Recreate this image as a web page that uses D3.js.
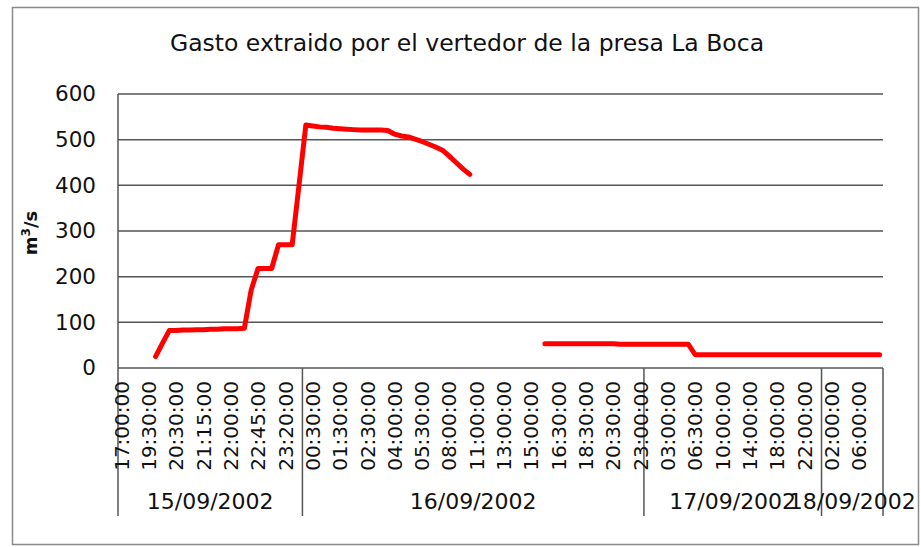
<!DOCTYPE html>
<html>
<head>
<meta charset="utf-8">
<script src="https://cdn.jsdelivr.net/npm/d3@7"></script>
<style>
  body { margin: 0; background: #fff; }
  text { font-family: "DejaVu Sans", sans-serif; fill: #111; }
</style>
</head>
<body>
<div id="chart"></div>
<script>
// caudal (m3/s) por categoria; null = sin dato
const values = [
    null, null, null, null, null,
    25, 54, 82, 82, 83, 83, 84, 84, 85, 85, 86, 86, 86, 87,
    171, 218, 218, 218, 270, 270, 270, 400,
    532, 530, 528, 527, 525, 524, 523, 522, 521, 521, 521, 521, 520,
    512, 508, 506, 501, 496, 490, 484, 477, 464, 450, 436, 424,
    null, null, null, null, null, null, null, null, null, null,
    53, 53, 53, 53, 53, 53, 53, 53, 53, 53, 53,
    52, 52, 52, 52, 52, 52, 52, 52, 52, 52, 52,
    29, 29, 29, 29, 29, 29, 29, 29, 29, 29, 29, 29, 29, 29,
    29, 29, 29, 29, 29, 29, 29, 29, 29, 29, 29, 29, 29, 29
];

// etiquetas horarias (una cada 4 categorias)
const tickLabels = [
    '17:00:00', '19:30:00', '20:30:00', '21:15:00', '22:00:00', '22:45:00', '23:20:00',
    '00:30:00', '01:30:00', '02:30:00', '04:00:00', '05:30:00', '08:00:00', '11:00:00',
    '13:00:00', '15:00:00', '16:30:00', '18:30:00', '20:30:00', '23:00:00',
    '03:00:00', '06:30:00', '10:00:00', '14:00:00', '18:00:00', '22:00:00',
    '02:00:00', '06:00:00'
];
const tickStep = 4;

const dateLabels = ['15/09/2002', '16/09/2002', '17/09/2002', '18/09/2002'];
const dateCounts = [27, 50, 26, 9];

const yTicks = [0, 100, 200, 300, 400, 500, 600];

const width = 921, height = 547;
const plot = {left: 118, right: 883, top: 94, bottom: 368};
const axisBottom = 516;

const svg = d3.select('#chart').append('svg')
    .attr('width', width)
    .attr('height', height);

// marco exterior
svg.append('rect')
    .attr('x', 12.5).attr('y', 7.5)
    .attr('width', 906).attr('height', 537)
    .attr('fill', 'none')
    .attr('stroke', '#8a8a8a')
    .attr('stroke-width', 1.5);

const x = d3.scaleBand()
    .domain(d3.range(values.length))
    .range([plot.left, plot.right]);

const y = d3.scaleLinear()
    .domain([0, 600])
    .range([plot.bottom, plot.top]);

// lineas de cuadricula
svg.append('g')
    .selectAll('line')
    .data(yTicks)
    .enter()
    .append('line')
    .attr('x1', plot.left)
    .attr('x2', plot.right)
    .attr('y1', d => y(d))
    .attr('y2', d => y(d))
    .attr('stroke', '#555')
    .attr('stroke-width', 1.5);

// eje Y
svg.append('g')
    .attr('transform', 'translate(' + (plot.left - 22) + ',0)')
    .call(d3.axisLeft(y).tickValues(yTicks).tickSize(0).tickPadding(0))
    .call(g => g.select('.domain').remove())
    .call(g => g.selectAll('text')
        .attr('font-family', '"DejaVu Sans", sans-serif')
        .attr('font-size', 21.5)
        .attr('fill', '#111'));

svg.append('line')
    .attr('x1', plot.left).attr('x2', plot.left)
    .attr('y1', plot.top).attr('y2', axisBottom)
    .attr('stroke', '#555')
    .attr('stroke-width', 1.5);

svg.append('text')
    .attr('transform', 'translate(37,233) rotate(-90)')
    .attr('text-anchor', 'middle')
    .attr('font-size', 18)
    .attr('font-weight', 'bold')
    .html('m<tspan dy="-7" font-size="12">3</tspan><tspan dy="7">/s</tspan>');

// divisiones de fecha
let edges = [0];
dateCounts.forEach((c, i) => edges.push(edges[i] + c));

svg.append('g')
    .selectAll('line')
    .data(edges.slice(1))
    .enter()
    .append('line')
    .attr('x1', d => d < values.length ? x(d) : plot.right)
    .attr('x2', d => d < values.length ? x(d) : plot.right)
    .attr('y1', plot.bottom)
    .attr('y2', axisBottom)
    .attr('stroke', '#555')
    .attr('stroke-width', 1.5);

svg.append('g')
    .selectAll('text')
    .data(dateLabels)
    .enter()
    .append('text')
    .attr('x', (d, i) => {
        const a = x(edges[i]);
        const b = edges[i + 1] < values.length ? x(edges[i + 1]) : plot.right;
        return (a + b) / 2;
    })
    .attr('y', 509)
    .attr('text-anchor', 'middle')
    .attr('font-size', 22)
    .text(d => d);

// etiquetas horarias
svg.append('g')
    .selectAll('text')
    .data(tickLabels)
    .enter()
    .append('text')
    .attr('transform', (d, i) => 'translate(' + (x(i * tickStep) + x.bandwidth() / 2) + ',381) rotate(-90)')
    .attr('text-anchor', 'end')
    .attr('dy', '0.36em')
    .attr('font-size', 20)
    .text(d => d);

// serie
svg.append('path')
    .datum(values)
    .attr('fill', 'none')
    .attr('stroke', '#ff0000')
    .attr('stroke-width', 5)
    .attr('stroke-linejoin', 'round')
    .attr('stroke-linecap', 'round')
    .attr('d', d3.line()
        .defined(d => d != null)
        .x((d, i) => x(i) + x.bandwidth() / 2)
        .y(d => y(d)));

svg.append('text')
    .attr('x', 467)
    .attr('y', 51)
    .attr('text-anchor', 'middle')
    .attr('font-size', 23.5)
    .text('Gasto extraido por el vertedor de la presa La Boca');
</script>
</body>
</html>
